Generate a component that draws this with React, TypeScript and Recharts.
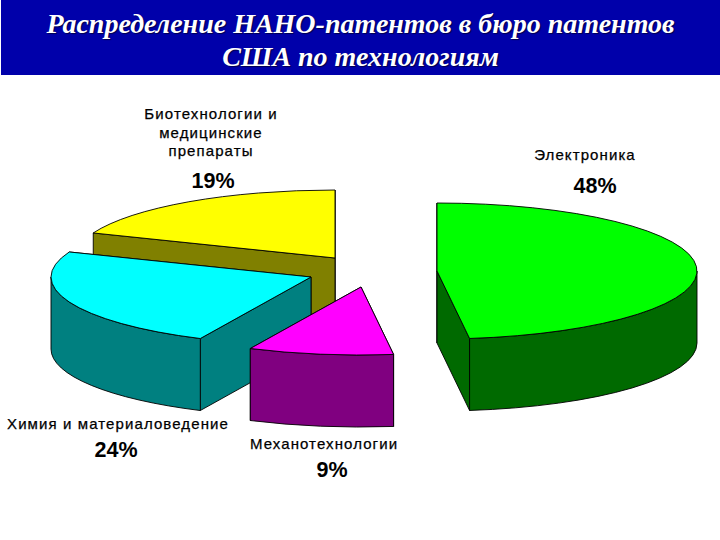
import React from "react";
import { PieChart, Pie } from "recharts";

const categories = [
  "Биотехнологии и медицинские препараты",
  "Химия и материаловедение",
  "Механотехнологии",
  "Электроника",
];
const shares = [19, 24, 9, 48];

const tableData = categories.map((name, i) => ({ name, value: shares[i] }));

// tilt of the fake 3D pie
const RADIUS = 260;
const SQUASH = 68 / 260;
const DEPTH = 72;

const topColors = ["#FFFF00", "#00FFFF", "#FF00FF", "#00FF00"];
const sideColors = ["#808000", "#008080", "#800080", "#006A00"];

// how far each slice is pulled out of the pie centre (345, 272)
const explode = [
  { dx: -10, dy: -14 },
  { dx: -34, dy: 5 },
  { dx: 16, dy: 15 },
  { dx: 92, dy: -1 },
];

// label blocks, by slice
const labelSpots = [
  { x: 211, y: 119, pctX: 213, pctY: 188, lines: ["Биотехнологии и", "медицинские", "препараты"] },
  { x: 118, y: 429, pctX: 116, pctY: 457, lines: ["Химия и материаловедение"] },
  { x: 324, y: 449, pctX: 332, pctY: 477, lines: ["Механотехнологии"] },
  { x: 585, y: 160, pctX: 595, pctY: 193, lines: ["Электроника"] },
];

const rad = (deg: number) => (deg * Math.PI) / 180;

const Slice3D = (props: any) => {
  const { startAngle, endAngle, index, outerRadius } = props;
  const cx = props.cx + explode[index].dx;
  const cy = props.cy + explode[index].dy;
  const rx = outerRadius;
  const ry = outerRadius * SQUASH;

  const pt = (deg: number, down = 0) => ({
    x: cx + rx * Math.cos(rad(deg)),
    y: cy - ry * Math.sin(rad(deg)) + down,
  });
  const arc = (from: number, to: number, down = 0) => {
    const p = pt(to, down);
    const large = Math.abs(to - from) > 180 ? 1 : 0;
    const sweep = to > from ? 0 : 1;
    return `A ${rx} ${ry} 0 ${large} ${sweep} ${p.x} ${p.y}`;
  };
  const cutFace = (deg: number) => {
    const p = pt(deg);
    return `M ${cx} ${cy} L ${p.x} ${p.y} L ${p.x} ${p.y + DEPTH} L ${cx} ${cy + DEPTH} Z`;
  };

  // the two cut faces, further one first
  const cuts = [startAngle, endAngle].sort((a, b) => pt(a).y - pt(b).y);

  // the rim only shows on the front half of the ellipse
  const rims: string[] = [];
  [
    [180, 360],
    [540, 720],
  ].forEach(([lo, hi]) => {
    const a = Math.max(lo, startAngle);
    const b = Math.min(hi, endAngle);
    if (b > a) {
      const s = pt(a);
      const e = pt(b, DEPTH);
      rims.push(
        `M ${s.x} ${s.y} ${arc(a, b)} L ${e.x} ${e.y} ${arc(b, a, DEPTH)} Z`
      );
    }
  });

  const s = pt(startAngle);
  const top = `M ${cx} ${cy} L ${s.x} ${s.y} ${arc(startAngle, endAngle)} Z`;
  const edge = { stroke: "#000", strokeWidth: 0.9, strokeLinejoin: "round" as const };

  return (
    <g>
      {cuts.map((deg) => (
        <path key={deg} d={cutFace(deg)} fill={sideColors[index]} {...edge} />
      ))}
      {rims.map((d) => (
        <path key={d} d={d} fill={sideColors[index]} {...edge} />
      ))}
      <path d={top} fill={topColors[index]} {...edge} />
    </g>
  );
};

const SliceLabel = (props: any) => {
  const spot = labelSpots[props.index];
  return (
    <g fontFamily="'Liberation Sans', Arial, sans-serif" fill="#000">
      {spot.lines.map((line, i) => (
        <text
          key={line}
          x={spot.x}
          y={spot.y + i * 18.5}
          textAnchor="middle"
          fontSize={15}
          letterSpacing={1.1}
          stroke="#000"
          strokeWidth={0.25}
        >
          {line}
        </text>
      ))}
      <text x={spot.pctX} y={spot.pctY} textAnchor="middle" fontSize={21.5} fontWeight="bold">
        {`${shares[props.index]}%`}
      </text>
    </g>
  );
};

const App: React.FC = () => {
  return (
    <div style={{ position: "absolute", left: 0, top: 0, width: 720, height: 540, background: "#fff", overflow: "hidden" }}>
      <div
        style={{
          position: "absolute",
          left: 1,
          top: 0,
          width: 719,
          height: 75,
          background: "#0000AA",
          color: "#fff",
          fontFamily: "'Liberation Serif', serif",
          fontStyle: "italic",
          fontWeight: "bold",
          fontSize: 28,
          lineHeight: "33px",
          textAlign: "center",
          paddingTop: 7,
          boxSizing: "border-box",
          textShadow: "1px 1px 1px #00004d",
        }}
      >
        <div>Распределение НАНО-патентов в бюро патентов</div>
        <div>США по технологиям</div>
      </div>
      <PieChart width={720} height={540} margin={{ top: 0, right: 0, bottom: 0, left: 0 }}>
        <Pie
          data={tableData}
          dataKey="value"
          nameKey="name"
          cx={345}
          cy={272}
          outerRadius={RADIUS}
          startAngle={90}
          endAngle={450}
          stroke="none"
          shape={Slice3D}
          label={SliceLabel}
          labelLine={false}
          isAnimationActive={false}
        />
      </PieChart>
    </div>
  );
};

export default App;
